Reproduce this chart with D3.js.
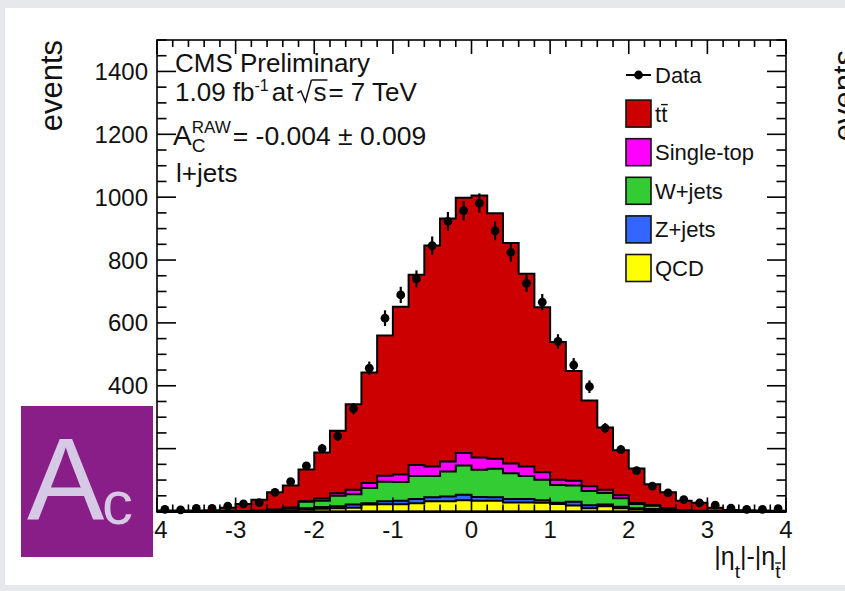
<!DOCTYPE html>
<html><head><meta charset="utf-8">
<script src="https://cdn.jsdelivr.net/npm/d3@7"></script>
<style>
body{margin:0;background:#e7e8ec;}
svg{display:block;}
text{font-family:"Liberation Sans",Arial,Helvetica,sans-serif;fill:#111;}
</style>
</head><body>
<svg id="c" width="845" height="591"></svg>
<script>
// ---------------- data ----------------
const binLow = [-4.0,-3.8,-3.6,-3.4,-3.2,-3.0,-2.8,-2.6,-2.4,-2.2,
                -2.0,-1.8,-1.6,-1.4,-1.2,-1.0,-0.8,-0.6,-0.4,-0.2,
                 0.0, 0.2, 0.4, 0.6, 0.8, 1.0, 1.2, 1.4, 1.6, 1.8,
                 2.0, 2.2, 2.4, 2.6, 2.8, 3.0, 3.2, 3.4, 3.6, 3.8];
const binWidth = 0.2;
const qcd    = [0,0,0,0,0,0,0,1,2,7,9,10,12,22,23,23,26,33,33,36,34,34,29,29,28,24,19,10,17,10,8,6,1,0,0,0,0,0,0,0];
const zjets  = [0,0,0,0,0,0,0,1,2,3,5,7,10,4,10,11,14,12,15,17,12,11,11,11,8,4,12,10,5,5,2,2,1,0,0,0,0,0,0,0];
const wjets  = [0,0,0,0,0,1,2,3,7,21,20,33,33,49,62,60,73,68,79,93,87,91,82,73,65,56,52,45,37,27,14,10,6,3,1,1,0,0,0,0];
const single = [0,0,0,0,0,0,0,1,2,2,7,8,14,16,19,24,35,30,32,40,39,32,31,30,24,17,15,15,10,10,3,2,2,0,1,0,0,0,0,0];
const ttbar  = [3,3,3,4,12,23,35,55,70,101,147,199,272,351,446,533,605,703,773,812,833,781,701,613,525,438,349,273,198,143,110,67,51,31,26,11,5,4,3,2];
const dataV  = [7,5,10,10,17,24,28,61,95,145,200,240,327,456,615,689,740,846,923,957,981,893,824,726,666,541,466,397,265,197,130,81,59,38,27,20,11,7,7,9];
const dataErr= [3,2,3,3,4,5,5,8,10,12,14,15,18,21,25,26,27,29,30,31,31,30,29,27,26,23,22,20,16,14,11,9,8,6,5,4,3,3,3,3];

const seriesKeys   = ["qcd","zjets","wjets","single","ttbar"];
const seriesColors = {qcd:"#ffff00", zjets:"#3366ff", wjets:"#33cc33", single:"#ff00ff", ttbar:"#cc0000"};
const legendItems  = [["ttbar","t"],["single","Single-top"],["wjets","W+jets"],["zjets","Z+jets"],["qcd","QCD"]];
const xDomain = [-4, 4];
const yDomain = [0, 1500];

// ---------------- layout ----------------
const svg = d3.select("#c");
svg.append("rect").attr("x",0).attr("y",0).attr("width",845).attr("height",591).attr("fill","#e7e8ec");
svg.append("rect").attr("x",5).attr("y",8).attr("width",840).attr("height",577).attr("fill","#ffffff");

const X0 = 157, X1 = 786, Y0 = 511.5, Y1 = 40;
const x = d3.scaleLinear(xDomain, [X0, X1]);
const y = d3.scaleLinear(yDomain, [Y0, Y1]);

const table = binLow.map((b,i)=>({lo:b, qcd:qcd[i], zjets:zjets[i], wjets:wjets[i], single:single[i], ttbar:ttbar[i]}));
const stacked = d3.stack().keys(seriesKeys)(table);

const area = d3.area().curve(d3.curveStepAfter)
  .x(d=>x(d.x)).y0(y(0)).y1(d=>y(d.v));

const plot = svg.append("g");
for (let k = stacked.length-1; k >= 0; k--) {
  const layer = stacked[k];
  const pts = layer.map((d,i)=>({x:binLow[i], v:d[1]}));
  pts.push({x:binLow[binLow.length-1]+binWidth, v:layer[layer.length-1][1]});
  plot.append("path").attr("d", area(pts))
    .attr("fill", seriesColors[layer.key]).attr("stroke","#000").attr("stroke-width",2);
}

// data points
const dg = svg.append("g");
binLow.forEach((b,i)=>{
  const cx = x(b+binWidth/2);
  dg.append("line").attr("x1",cx).attr("x2",cx)
    .attr("y1",y(dataV[i]-dataErr[i])).attr("y2",y(dataV[i]+dataErr[i]))
    .attr("stroke","#000").attr("stroke-width",2.2);
  dg.append("circle").attr("cx",cx).attr("cy",y(dataV[i])).attr("r",4.4).attr("fill","#000");
});

// frame and ticks
const ax = svg.append("g").attr("stroke","#000").attr("stroke-width",1.6);
ax.append("rect").attr("x",X0).attr("y",Y1).attr("width",X1-X0).attr("height",Y0-Y1).attr("fill","none");
const yMaj = y.ticks(8), yMin = y.ticks(30).filter(v=>!yMaj.includes(v));
const xMaj = x.ticks(8), xMin = x.ticks(40).filter(v=>!xMaj.some(m=>Math.abs(m-v)<1e-6));
const yTL = 19, yTS = 9.5, xTL = 14, xTS = 7;
yMaj.forEach(v=>{ax.append("line").attr("x1",X0).attr("x2",X0+yTL).attr("y1",y(v)).attr("y2",y(v));
                 ax.append("line").attr("x1",X1).attr("x2",X1-yTL).attr("y1",y(v)).attr("y2",y(v));});
yMin.forEach(v=>{ax.append("line").attr("x1",X0).attr("x2",X0+yTS).attr("y1",y(v)).attr("y2",y(v));
                 ax.append("line").attr("x1",X1).attr("x2",X1-yTS).attr("y1",y(v)).attr("y2",y(v));});
xMaj.forEach(v=>{ax.append("line").attr("x1",x(v)).attr("x2",x(v)).attr("y1",Y0).attr("y2",Y0-xTL);
                 ax.append("line").attr("x1",x(v)).attr("x2",x(v)).attr("y1",Y1).attr("y2",Y1+xTL);});
xMin.forEach(v=>{ax.append("line").attr("x1",x(v)).attr("x2",x(v)).attr("y1",Y0).attr("y2",Y0-xTS);
                 ax.append("line").attr("x1",x(v)).attr("x2",x(v)).attr("y1",Y1).attr("y2",Y1+xTS);});

// tick labels
const lab = svg.append("g").attr("font-size",24);
yMaj.forEach(v=>lab.append("text").attr("x",148).attr("y",y(v)+8.5).attr("text-anchor","end").text(v));
xMaj.forEach(v=>lab.append("text").attr("x",x(v)).attr("y",538).attr("text-anchor","middle").text(v<0?"-"+Math.abs(v):v));

// axis titles
svg.append("text").attr("transform","translate(61.5,40) rotate(-90)").attr("text-anchor","end")
  .attr("font-size",31).text("events");
svg.append("text").attr("transform","translate(855,50) rotate(-90)").attr("text-anchor","end")
  .attr("font-size",31).text("events");

// rich text helper
function rich(parent, x0, y0, pieces, alignEnd) {
  const g = parent.append("g");
  let cx = x0;
  pieces.forEach(p=>{
    if (p.stack) {
      const a = g.append("text").attr("x",cx).attr("y",y0+p.supDy).attr("font-size",p.supSize).text(p.sup);
      const b = g.append("text").attr("x",cx).attr("y",y0+p.subDy).attr("font-size",p.subSize).text(p.sub);
      cx += Math.max(a.node().getComputedTextLength(), b.node().getComputedTextLength()) + (p.gap||0);
    } else if (p.radical) {
      const h = p.h, w = p.w;
      g.append("path").attr("d",`M${cx},${y0-8} L${cx+3.5},${y0-10} L${cx+8},${y0+0.5} L${cx+14},${y0-h}`)
        .attr("fill","none").attr("stroke","#111").attr("stroke-width",1.5).attr("stroke-linejoin","miter");
      const t = g.append("text").attr("x",cx+w).attr("y",y0).attr("font-size",p.size).text(p.t);
      const tw = t.node().getComputedTextLength();
      g.append("line").attr("x1",cx+14).attr("x2",cx+w+tw+1).attr("y1",y0-h).attr("y2",y0-h)
        .attr("stroke","#111").attr("stroke-width",1.5);
      cx += w + tw + (p.gap||0);
    } else {
      const t = g.append("text").attr("x",cx).attr("y",y0+(p.dy||0)).attr("font-size",p.size).text(p.t);
      const w = t.node().getComputedTextLength();
      if (p.over!==undefined) g.append("line").attr("x1",cx).attr("x2",cx+w+0.5)
        .attr("y1",y0+(p.dy||0)-p.over).attr("y2",y0+(p.dy||0)-p.over).attr("stroke","#111").attr("stroke-width",1.4);
      cx += w + (p.gap||0);
    }
  });
  if (alignEnd) g.attr("transform",`translate(${x0-cx},0)`);
  return cx;
}

const tb = svg.append("g");
rich(tb, 175, 72, [{t:"CMS Preliminary", size:26}]);
rich(tb, 175, 101, [{t:"1.09 fb", size:26},{t:"-1", size:16, dy:-10, gap:3},{t:"at", size:26, gap:4},
  {radical:true, t:"s", size:26, w:16, h:21, gap:2},{t:" = 7 TeV", size:26}]);
rich(tb, 173, 145, [{t:"A", size:28},{stack:true, sup:"RAW", sub:"C", supSize:17, subSize:19, supDy:-12, subDy:7, gap:2},
  {t:"= -0.004 \u00B1 0.009", size:26.5}]);
rich(tb, 176, 182, [{t:"l+jets", size:26}]);

// x-axis title
rich(svg, 787, 565, [{t:"|\u03B7", size:25},{t:"t", size:19, dy:13},{t:"|-|\u03B7", size:25},
  {t:"t", size:19, dy:13, over:15},{t:"|", size:25}], true);

// legend
const lg = svg.append("g");
const legX = 626, legRow0 = 75, legStep = 38.6;
lg.append("line").attr("x1",legX).attr("x2",legX+25).attr("y1",legRow0).attr("y2",legRow0).attr("stroke","#000").attr("stroke-width",2);
lg.append("circle").attr("cx",legX+12.5).attr("cy",legRow0).attr("r",4.4).attr("fill","#000");
lg.append("text").attr("x",655).attr("y",legRow0+8).attr("font-size",22).text("Data");
legendItems.forEach((it,i)=>{
  const cy = legRow0 + legStep*(i+1);
  lg.append("rect").attr("x",legX).attr("y",cy-13.5).attr("width",25).attr("height",27)
    .attr("fill",seriesColors[it[0]]).attr("stroke","#111").attr("stroke-width",1.6);
  if (it[0]==="ttbar") {
    rich(lg, 655, cy+8, [{t:it[1], size:22},{t:"t", size:22, over:17}]);
  } else {
    lg.append("text").attr("x",655).attr("y",cy+8).attr("font-size",22).text(it[1]);
  }
});

// purple logo box
const logo = svg.append("g");
logo.append("rect").attr("x",21).attr("y",406).attr("width",132).attr("height",151).attr("fill","#8a1e88");
logo.append("text").attr("x",27).attr("y",520).attr("font-size",116).attr("font-family","'Open Sans',Lato,sans-serif")
  .attr("font-weight",300).style("fill","#d6c9e6").text("A");
logo.append("text").attr("x",102).attr("y",524).attr("font-size",62).attr("font-family","'Open Sans',Lato,sans-serif")
  .attr("font-weight",300).style("fill","#d6c9e6").text("c");
</script>
</body></html>
